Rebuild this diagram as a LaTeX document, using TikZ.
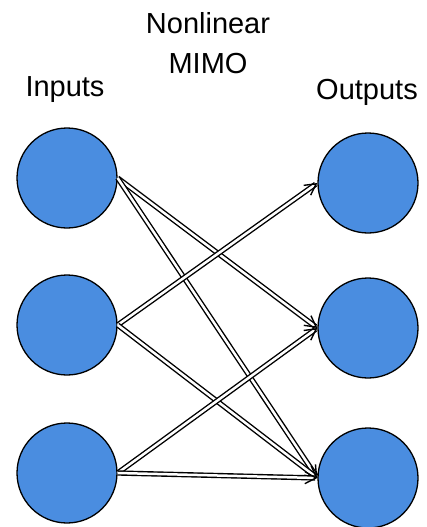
\documentclass[tikz,border=0pt]{standalone}
\usepackage{fontspec}
\setmainfont{Liberation Sans}
\usetikzlibrary{arrows.meta,positioning}

\definecolor{unitblue}{RGB}{74,141,224}

\tikzset{
  unit/.style={circle, draw=black, line width=1.3pt, fill=unitblue, minimum size=100pt, inner sep=0pt},
  title/.style={font=\fontsize{29}{40}\selectfont, anchor=base, align=center},
  link/.style={double, double distance=2.5pt, line width=1.4pt, -{Straight Barb[length=11pt,width=12pt]}}
}

\begin{document}
\begin{tikzpicture}[x=1pt,y=-1pt]

		\useasboundingbox (0,0) rectangle (426,527);

		\foreach \i/\y in {1/178, 2/325, 3/473} {
		    \node[unit] (in\i) at (67,\y) {};
		}
		\foreach \i/\y in {1/183, 2/328, 3/478} {
		    \node[unit] (out\i) at (368,\y) {};
		}

		\node[title] (mimo) at (208,74) {Nonlinear\\MIMO};
		\node[title] (inputs) at (65,96) {Inputs};
		\node[title] (outputs) at (367,99) {Outputs};

		\draw[link] (in1.east) -- (out2.west);
		\draw[link] (in1.east) -- (out3.west);
		\draw[link] (in2.east) -- (out1.west);
		\draw[link] (in2.east) -- (out3.west);
		\draw[link] (in3.east) -- (out2.west);
		\draw[link] (in3.east) -- (out3.west);
	\end{tikzpicture}
\end{document}
